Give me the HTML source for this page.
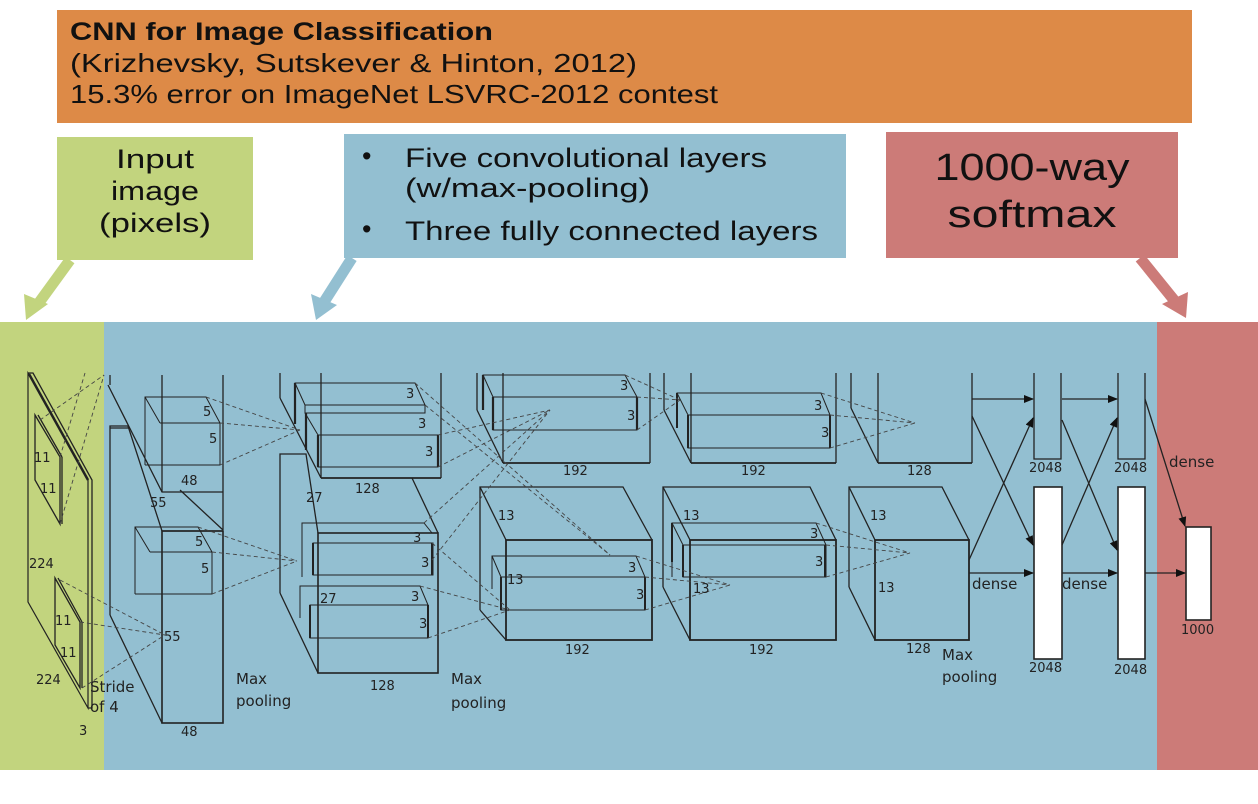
<!DOCTYPE html>
<html><head><meta charset="utf-8"><style>
html,body{margin:0;padding:0;background:#fff;}
svg{display:block}
</style></head><body>
<svg width="1258" height="804" viewBox="0 0 1258 804" xmlns="http://www.w3.org/2000/svg">
<rect width="1258" height="804" fill="#fff"/>
<!-- header -->
<rect x="57" y="10" width="1135" height="113" fill="#dd8a47"/>
<g font-family="Liberation Sans, sans-serif" fill="#111">
<text x="70" y="40" font-size="25" font-weight="bold" textLength="423" lengthAdjust="spacingAndGlyphs">CNN for Image Classification</text>
<text x="70" y="72" font-size="26" textLength="567" lengthAdjust="spacingAndGlyphs">(Krizhevsky, Sutskever &amp; Hinton, 2012)</text>
<text x="70" y="103" font-size="26" textLength="648" lengthAdjust="spacingAndGlyphs">15.3% error on ImageNet LSVRC-2012 contest</text>
</g>
<!-- callout boxes -->
<rect x="57" y="137" width="196" height="123" fill="#c2d47e"/>
<rect x="344" y="134" width="502" height="124" fill="#93bfd1"/>
<rect x="886" y="132" width="292" height="126" fill="#cc7b78"/>
<g font-family="Liberation Sans, sans-serif" fill="#111" font-size="27">
<text x="155" y="168" text-anchor="middle" textLength="78" lengthAdjust="spacingAndGlyphs">Input</text>
<text x="155" y="200" text-anchor="middle" textLength="88" lengthAdjust="spacingAndGlyphs">image</text>
<text x="155" y="232" text-anchor="middle" textLength="112" lengthAdjust="spacingAndGlyphs">(pixels)</text>
<text x="362" y="165">•</text>
<text x="405" y="167" textLength="362" lengthAdjust="spacingAndGlyphs">Five convolutional layers</text>
<text x="405" y="197" textLength="245" lengthAdjust="spacingAndGlyphs">(w/max-pooling)</text>
<text x="362" y="238">•</text>
<text x="405" y="240" textLength="413" lengthAdjust="spacingAndGlyphs">Three fully connected layers</text>
<text x="1032" y="180" font-size="38" text-anchor="middle" textLength="195" lengthAdjust="spacingAndGlyphs">1000-way</text>
<text x="1032" y="227" font-size="38" text-anchor="middle" textLength="169" lengthAdjust="spacingAndGlyphs">softmax</text>
</g>
<!-- big arrows -->
<g>
<line x1="70" y1="260" x2="38" y2="304" stroke="#c2d47e" stroke-width="11"/>
<polygon points="26,320 24,294 48,304" fill="#c2d47e"/>
<line x1="352" y1="258" x2="324" y2="302" stroke="#93bfd1" stroke-width="11"/>
<polygon points="316,320 311,294 337,305" fill="#93bfd1"/>
<line x1="1140" y1="258" x2="1174" y2="300" stroke="#cc7b78" stroke-width="11"/>
<polygon points="1186,318 1162,304 1188,292" fill="#cc7b78"/>
</g>
<!-- main panel -->
<rect x="0" y="322" width="104" height="448" fill="#c2d47e"/>
<rect x="104" y="322" width="1053" height="448" fill="#93bfd1"/>
<rect x="1157" y="322" width="101" height="448" fill="#cc7b78"/>

<g fill="none" stroke="#222" stroke-width="1.3">
<!-- input slab -->
<polygon points="28,373 88,480 88,708 28,602" stroke-width="1.2"/>
<polyline points="28,373 33,373 92,480 92,708 88,708" />
<line x1="29" y1="374" x2="88" y2="480" stroke-width="2.5"/>
<polygon points="35,415 60,457 60,524 35,480"/>
<line x1="38" y1="415" x2="62" y2="457"/><line x1="62" y1="457" x2="62" y2="524"/>
<polygon points="55,578 80,622 80,688 55,645"/>
<line x1="58" y1="578" x2="82" y2="622"/><line x1="82" y1="622" x2="82" y2="688"/>
<!-- layer1 -->
<line x1="110" y1="375" x2="110" y2="385"/>
<polyline points="108,385 162,492 223,492"/>
<line x1="162" y1="375" x2="162" y2="492"/>
<line x1="223" y1="375" x2="223" y2="530"/>
<line x1="180" y1="490" x2="223" y2="530"/>
<polygon points="110,428 130,428 130,428"/>
<polyline points="110,615 110,426 128,426 162,531 223,531"/>
<rect x="162" y="531" width="61" height="192" stroke-width="1.6"/>
<line x1="110" y1="615" x2="162" y2="723"/>
<!-- kernels 5 -->
<g stroke-width="1">
<polyline points="145,465 145,397 206,397 220,423 220,465 145,465"/>
<line x1="145" y1="397" x2="160" y2="423"/><line x1="160" y1="423" x2="220" y2="423"/>
<polyline points="135,594 135,527 198,527 212,552 212,594 135,594"/>
<line x1="135" y1="527" x2="150" y2="552"/><line x1="150" y1="552" x2="212" y2="552"/>
</g>
<!-- layer2 upper -->
<line x1="280" y1="373" x2="280" y2="398"/>
<line x1="280" y1="398" x2="321" y2="478"/>
<line x1="321" y1="373" x2="321" y2="478"/>
<line x1="441" y1="373" x2="441" y2="478"/>
<line x1="321" y1="478" x2="441" y2="478" stroke-width="1.8"/>
<g stroke-width="1">
<polyline points="295,424 295,383 415,383 425,405"/>
<line x1="295" y1="383" x2="305" y2="405"/>
<rect x="305" y="405" width="120" height="8"/>
<line x1="305" y1="413" x2="318" y2="435"/>
<rect x="318" y="435" width="120" height="32"/>
</g>
<line x1="295" y1="383" x2="295" y2="424" stroke-width="2.2"/>
<line x1="306" y1="413" x2="306" y2="450" stroke-width="2.2"/>
<line x1="318" y1="435" x2="318" y2="467" stroke-width="2.2"/>
<line x1="438" y1="435" x2="438" y2="467" stroke-width="2.2"/>
<!-- layer2 lower -->
<polyline points="280,593 280,454 306,454 318,533"/>
<line x1="412" y1="478" x2="438" y2="533"/>
<rect x="318" y="533" width="120" height="140" stroke-width="1.6"/>
<line x1="280" y1="593" x2="318" y2="673"/>
<g stroke-width="1">
<polyline points="302,577 302,523 424,523 432,533"/>
<rect x="313" y="543" width="120" height="32"/>
<polyline points="300,618 300,586 420,586 428,605"/>
<rect x="310" y="605" width="118" height="33"/>
</g>
<line x1="313" y1="543" x2="313" y2="575" stroke-width="2"/>
<line x1="432" y1="543" x2="432" y2="575" stroke-width="2"/>
<line x1="310" y1="605" x2="310" y2="638" stroke-width="2"/>
<line x1="428" y1="605" x2="428" y2="638" stroke-width="2"/>
<!-- layer3 upper -->
<line x1="477" y1="373" x2="477" y2="410"/>
<line x1="477" y1="410" x2="503" y2="463"/>
<line x1="503" y1="373" x2="503" y2="463"/>
<line x1="650" y1="373" x2="650" y2="463"/>
<line x1="503" y1="463" x2="650" y2="463" stroke-width="1.8"/>
<g stroke-width="1">
<polyline points="483,410 483,375 625,375 637,397"/>
<line x1="483" y1="375" x2="493" y2="397"/>
<rect x="493" y="397" width="144" height="33"/>
</g>
<line x1="483" y1="375" x2="483" y2="410" stroke-width="2.2"/>
<line x1="493" y1="397" x2="493" y2="430" stroke-width="2.2"/>
<line x1="637" y1="397" x2="637" y2="430" stroke-width="2.2"/>
<!-- layer3 lower -->
<polyline points="480,610 480,487 623,487 652,540"/>
<line x1="480" y1="487" x2="506" y2="540"/>
<rect x="506" y="540" width="146" height="100" stroke-width="1.8"/>
<line x1="480" y1="610" x2="506" y2="640"/>
<g stroke-width="1">
<polyline points="492,589 492,556 636,556 645,577"/>
<line x1="492" y1="556" x2="501" y2="577"/>
<rect x="501" y="577" width="144" height="33"/>
</g>
<line x1="501" y1="577" x2="501" y2="610" stroke-width="2"/>
<line x1="645" y1="577" x2="645" y2="610" stroke-width="2"/>
<!-- layer4 upper -->
<line x1="664" y1="373" x2="664" y2="410"/>
<line x1="664" y1="410" x2="691" y2="463"/>
<line x1="691" y1="373" x2="691" y2="463"/>
<line x1="836" y1="373" x2="836" y2="463"/>
<line x1="691" y1="463" x2="836" y2="463" stroke-width="1.8"/>
<g stroke-width="1">
<polyline points="677,428 677,393 821,393 830,415"/>
<line x1="677" y1="393" x2="688" y2="415"/>
<rect x="688" y="415" width="142" height="33"/>
</g>
<line x1="677" y1="393" x2="677" y2="428" stroke-width="2"/>
<line x1="688" y1="415" x2="688" y2="448" stroke-width="2"/>
<line x1="830" y1="415" x2="830" y2="448" stroke-width="2"/>
<!-- layer4 lower -->
<polyline points="663,587 663,487 810,487 836,540"/>
<line x1="663" y1="487" x2="690" y2="540"/>
<rect x="690" y="540" width="146" height="100" stroke-width="1.8"/>
<line x1="663" y1="587" x2="690" y2="640"/>
<g stroke-width="1">
<polyline points="672,577 672,523 816,523 826,545"/>
<line x1="672" y1="523" x2="683" y2="545"/>
<rect x="683" y="545" width="143" height="32"/>
</g>
<line x1="672" y1="523" x2="672" y2="562" stroke-width="2"/>
<line x1="683" y1="545" x2="683" y2="577" stroke-width="2"/>
<line x1="825" y1="545" x2="825" y2="577" stroke-width="2"/>
<!-- layer5 -->
<line x1="851" y1="373" x2="851" y2="408"/>
<line x1="851" y1="408" x2="878" y2="463"/>
<line x1="878" y1="373" x2="878" y2="463"/>
<line x1="972" y1="373" x2="972" y2="463"/>
<line x1="878" y1="463" x2="972" y2="463" stroke-width="1.8"/>
<polyline points="849,587 849,487 942,487 969,540"/>
<line x1="849" y1="487" x2="875" y2="540"/>
<rect x="875" y="540" width="94" height="100" stroke-width="1.8"/>
<line x1="849" y1="587" x2="875" y2="640"/>
<!-- dense layers -->
<polyline points="1034,373 1034,459 1061,459 1061,373"/>
<polyline points="1118,373 1118,459 1145,459 1145,373"/>
<rect x="1034" y="487" width="28" height="172" fill="#fff" stroke-width="1.6"/>
<rect x="1118" y="487" width="27" height="172" fill="#fff" stroke-width="1.6"/>
<rect x="1186" y="527" width="25" height="93" fill="#fff" stroke-width="1.6"/>
</g>
<!-- dashed connectors -->
<g stroke="#444" stroke-width="0.9" stroke-dasharray="4,3" fill="none">
<line x1="60" y1="457" x2="85" y2="373"/><line x1="60" y1="524" x2="104" y2="375"/><line x1="40" y1="420" x2="104" y2="375"/>
<line x1="60" y1="580" x2="165" y2="635"/><line x1="80" y1="622" x2="165" y2="635"/><line x1="82" y1="688" x2="165" y2="635"/>
<line x1="206" y1="397" x2="300" y2="430"/><line x1="220" y1="423" x2="300" y2="430"/><line x1="220" y1="465" x2="300" y2="430"/>
<line x1="198" y1="527" x2="297" y2="561"/><line x1="212" y1="552" x2="297" y2="561"/><line x1="212" y1="594" x2="297" y2="561"/>
<line x1="415" y1="383" x2="610" y2="555"/><line x1="425" y1="405" x2="610" y2="555"/><line x1="438" y1="435" x2="550" y2="410"/>
<line x1="438" y1="467" x2="550" y2="410"/><line x1="424" y1="523" x2="550" y2="410"/><line x1="432" y1="560" x2="550" y2="410"/>
<line x1="420" y1="586" x2="510" y2="610"/><line x1="428" y1="638" x2="510" y2="610"/><line x1="432" y1="543" x2="510" y2="610"/>
<line x1="625" y1="375" x2="680" y2="400"/><line x1="637" y1="397" x2="680" y2="400"/><line x1="637" y1="430" x2="680" y2="400"/>
<line x1="636" y1="556" x2="730" y2="585"/><line x1="645" y1="577" x2="730" y2="585"/><line x1="645" y1="610" x2="730" y2="585"/>
<line x1="821" y1="393" x2="915" y2="423"/><line x1="830" y1="415" x2="915" y2="423"/><line x1="830" y1="448" x2="915" y2="423"/>
<line x1="816" y1="523" x2="910" y2="553"/><line x1="826" y1="545" x2="910" y2="553"/><line x1="826" y1="577" x2="910" y2="553"/>
</g>
<!-- arrows dense -->
<defs><marker id="ah" markerWidth="10" markerHeight="8" refX="9" refY="4" orient="auto" markerUnits="userSpaceOnUse"><path d="M0,0 L10,4 L0,8 z" fill="#111"/></marker></defs>
<g stroke="#222" stroke-width="1.3" marker-end="url(#ah)">
<line x1="972" y1="399" x2="1033" y2="399"/>
<line x1="1062" y1="399" x2="1117" y2="399"/>
<line x1="972" y1="416" x2="1033" y2="545"/>
<line x1="969" y1="560" x2="1033" y2="418"/>
<line x1="1062" y1="420" x2="1117" y2="550"/>
<line x1="1062" y1="545" x2="1117" y2="418"/>
<line x1="1145" y1="399" x2="1185" y2="526"/>
<line x1="969" y1="573" x2="1033" y2="573"/>
<line x1="1062" y1="573" x2="1117" y2="573"/>
<line x1="1145" y1="573" x2="1185" y2="573"/>
</g>
<!-- labels -->
<g font-family="DejaVu Sans, sans-serif" font-size="13" fill="#222">
<text x="34" y="462">11</text><text x="40" y="493">11</text>
<text x="29" y="568">224</text>
<text x="55" y="625">11</text><text x="60" y="657">11</text>
<text x="36" y="684">224</text><text x="79" y="735">3</text>
<text x="90" y="692" font-size="15">Stride</text><text x="90" y="712" font-size="15">of 4</text>
<text x="203" y="416">5</text><text x="209" y="443">5</text>
<text x="195" y="546">5</text><text x="201" y="573">5</text>
<text x="181" y="485">48</text><text x="181" y="736">48</text>
<text x="150" y="507">55</text><text x="164" y="641">55</text>
<text x="236" y="684" font-size="15">Max</text><text x="236" y="706" font-size="15">pooling</text>
<text x="406" y="398">3</text><text x="418" y="428">3</text><text x="425" y="456">3</text>
<text x="413" y="542">3</text><text x="421" y="567">3</text><text x="411" y="601">3</text><text x="419" y="628">3</text>
<text x="306" y="502">27</text><text x="320" y="603">27</text>
<text x="355" y="493">128</text><text x="370" y="690">128</text>
<text x="451" y="684" font-size="15">Max</text><text x="451" y="708" font-size="15">pooling</text>
<text x="620" y="390">3</text><text x="627" y="420">3</text>
<text x="628" y="572">3</text><text x="636" y="599">3</text>
<text x="498" y="520">13</text><text x="507" y="584">13</text>
<text x="563" y="475">192</text><text x="565" y="654">192</text>
<text x="814" y="410">3</text><text x="821" y="437">3</text>
<text x="810" y="538">3</text><text x="815" y="566">3</text>
<text x="683" y="520">13</text><text x="693" y="593">13</text>
<text x="741" y="475">192</text><text x="749" y="654">192</text>
<text x="870" y="520">13</text><text x="878" y="592">13</text>
<text x="907" y="475">128</text><text x="906" y="653">128</text>
<text x="942" y="660" font-size="15">Max</text><text x="942" y="682" font-size="15">pooling</text>
<text x="972" y="589" font-size="15">dense</text><text x="1062" y="589" font-size="15">dense</text>
<text x="1169" y="467" font-size="15">dense</text>
<text x="1029" y="472">2048</text><text x="1114" y="472">2048</text>
<text x="1029" y="672">2048</text><text x="1114" y="674">2048</text>
<text x="1181" y="634">1000</text>
</g>
</svg>
</body></html>
